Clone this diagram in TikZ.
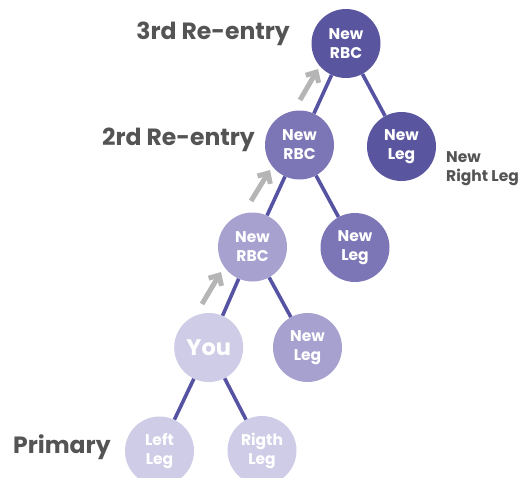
\documentclass[tikz,border=0pt]{standalone}
\usepackage{fontspec}
\setmainfont{Poppins}
\usetikzlibrary{arrows.meta}
\definecolor{cA}{HTML}{5A559F}
\definecolor{cB}{HTML}{7C75B6}
\definecolor{cC}{HTML}{A7A1D0}
\definecolor{cD}{HTML}{CFCCE7}
\definecolor{lineC}{HTML}{5753A3}
\definecolor{arrowC}{HTML}{B5B5B5}
\definecolor{labC}{HTML}{545454}
\begin{document}
\begin{tikzpicture}[x=1pt,y=-1pt,
  bub/.style={circle,minimum size=69pt,inner sep=0pt,align=center,text=white,
    font=\bfseries\fontsize{15.5}{19}\selectfont},
  conn/.style={draw=lineC,line width=3.6pt},
  upar/.style={draw=arrowC,line width=5pt,-{Straight Barb[length=8pt,width=15pt]}},
  lab/.style={text=labC,font=\bfseries\fontsize{23.5}{26}\selectfont,inner sep=0pt},
  slab/.style={text=labC,font=\bfseries\fontsize{15.5}{19.5}\selectfont,inner sep=0pt,align=left}]
\useasboundingbox (0,0) rectangle (532,477);
\clip (0,0) rectangle (532,477);
% nodes
\node[bub,fill=cA] (r3) at (346,43.5) {New\\RBC};
\node[bub,fill=cA] (l3) at (401.5,146.5) {New\\Leg};
\node[bub,fill=cB] (r2) at (299.5,145) {New\\RBC};
\node[bub,fill=cB] (l2) at (355,247.5) {New\\Leg};
\node[bub,fill=cC] (r1) at (252.5,247) {New\\RBC};
\node[bub,fill=cC] (l1) at (307.5,347.5) {New\\Leg};
\node[bub,fill=cD,font=\bfseries\fontsize{22.5}{24}\selectfont] (you) at (208.7,347.5) {You};
\node[bub,fill=cD] (ll) at (159.5,451) {Left\\Leg};
\node[bub,fill=cD] (rl) at (262,450.5) {Rigth\\Leg};
% connectors
\draw[conn] (r3) -- (r2);
\draw[conn] (r3) -- (l3);
\draw[conn] (r2) -- (r1);
\draw[conn] (r2) -- (l2);
\draw[conn] (r1) -- (you);
\draw[conn] (r1) -- (l1);
\draw[conn] (you) -- (ll);
\draw[conn] (you) -- (rl);
% gray arrows
\coordinate (a1s) at (202,304); \coordinate (a1e) at (221,272);
\coordinate (a2s) at (251,201); \coordinate (a2e) at (270,170);
\coordinate (a3s) at (300,100); \coordinate (a3e) at (318,69);
\draw[upar] (a1s) -- (a1e);
\draw[upar] (a2s) -- (a2e);
\draw[upar] (a3s) -- (a3e);
% labels
\node[lab,anchor=base east] (t3) at (290,39) {3rd Re-entry};
\node[lab,anchor=base east] (t2) at (255,145) {2rd Re-entry};
\node[lab,anchor=base west] (tp) at (13,453) {Primary};
\node[slab,anchor=north west] (tr) at (446,151) {New\\Right Leg};
\end{tikzpicture}
\end{document}
